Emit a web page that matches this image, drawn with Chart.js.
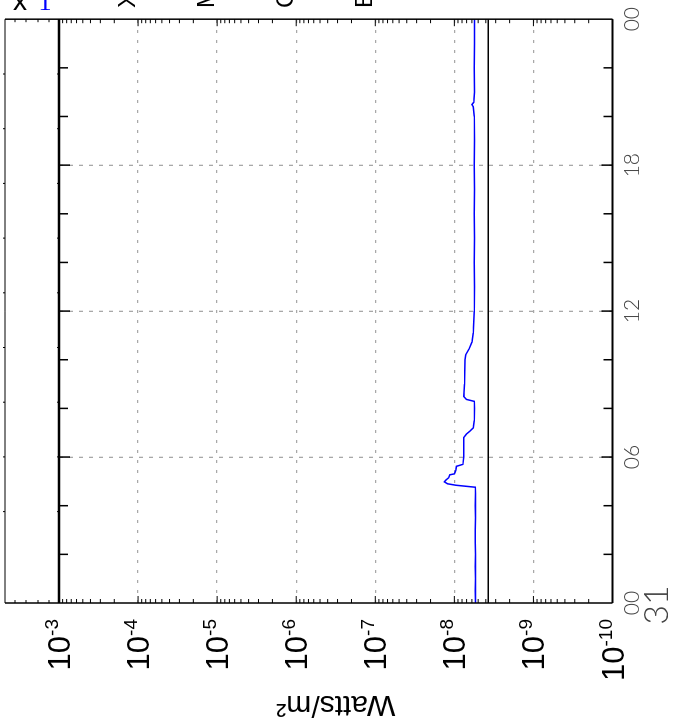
<!DOCTYPE html>
<html>
<head>
<meta charset="utf-8">
<script src="https://cdn.jsdelivr.net/npm/chart.js@4.4.1/dist/chart.umd.min.js"></script>
<style>
  body { margin: 0; overflow: hidden; background: #fff; }
  #wrap {
    position: absolute; left: 0; top: 0; width: 727px; height: 678px;
    transform-origin: 0 0; transform: translate(0, 727px) rotate(-90deg);
  }
</style>
</head>
<body>
<div id="wrap"><canvas id="goesChart" width="727" height="678"></canvas></div>
<script>
// hours of the day (UT)
const blueHours = [0, 0.5, 1, 1.5, 2, 2.5, 3, 3.5, 4, 4.5, 4.76, 4.84, 4.9, 4.98, 5.05, 5.15, 5.27, 5.31, 5.45, 5.62, 5.7,
  6, 6.4, 6.8, 6.94, 7.06, 7.2, 7.5, 8, 8.29, 8.37, 8.49, 9, 9.5, 10, 10.2, 10.45, 10.73, 11.1,
  12, 13, 14, 15, 16, 17, 18, 19, 20, 20.4, 20.49, 20.58, 21, 22, 23, 24];
const blueFlux = [5.42e-9, 5.45e-9, 5.40e-9, 5.44e-9, 5.42e-9, 5.46e-9, 5.43e-9, 5.41e-9, 5.44e-9, 5.42e-9, 5.45e-9, 9.5e-9, 1.22e-8, 1.34e-8, 1.28e-8, 1.18e-8, 1.14e-8, 1.0e-8, 9.6e-9, 9.4e-9, 7.8e-9,
  7.62e-9, 7.6e-9, 7.62e-9, 7.05e-9, 6.4e-9, 5.75e-9, 5.6e-9, 5.58e-9, 5.6e-9, 7.05e-9, 7.6e-9, 7.45e-9, 7.4e-9, 7.35e-9, 7.2e-9, 6.5e-9, 6.0e-9, 5.75e-9,
  5.62e-9, 5.58e-9, 5.6e-9, 5.56e-9, 5.6e-9, 5.58e-9, 5.6e-9, 5.57e-9, 5.6e-9, 5.75e-9, 6.0e-9, 5.7e-9, 5.58e-9, 5.6e-9, 5.57e-9, 5.58e-9];
const blackHours = [0, 24];
const blackFlux = [3.74e-9, 3.74e-9];

const timeTicks = [0, 6, 12, 18, 24];
const timeLabels = ['00', '06', '12', '18', '00'];
const dateLabel = '31';
const decadeExponents = [-3, -4, -5, -6, -7, -8, -9, -10];
const classLetters = ['X', 'M', 'C', 'B'];
const classFlux = [1e-4, 1e-5, 1e-6, 1e-7];

const thinFont = "Lato, 'Open Sans', sans-serif";
const sansFont = "'Liberation Sans', Arial, sans-serif";
const gridGray = '#a8a8a8';

const framePlugin = {
  id: 'frame',
  afterDraw(chart) {
    const ctx = chart.ctx;
    const area = chart.chartArea;
    const xs = chart.scales.x;
    const ys = chart.scales.y;
    const stripTop = 5;
    ctx.save();
    ctx.strokeStyle = '#000';

    // log ticks on left and right edges
    decadeExponents.forEach(e => {
      for (let m = 1; m <= 9; m++) {
        const v = m * Math.pow(10, e);
        if (v > 1e-3 || v < 1e-10) continue;
        const py = ys.getPixelForValue(v);
        const len = m === 1 ? 7 : 4;
        ctx.lineWidth = 1;
        ctx.beginPath();
        ctx.moveTo(area.left, py); ctx.lineTo(area.left + len, py);
        ctx.moveTo(area.right, py); ctx.lineTo(area.right - len, py);
        ctx.stroke();
      }
    });

    // time ticks on top and bottom edges
    for (let h = 2; h < 24; h += 2) {
      const px = xs.getPixelForValue(h);
      const len = h % 6 === 0 ? 11 : 9;
      ctx.lineWidth = 1.5;
      ctx.beginPath();
      ctx.moveTo(px, area.top); ctx.lineTo(px, area.top + len);
      ctx.moveTo(px, area.bottom); ctx.lineTo(px, area.bottom - len);
      ctx.stroke();
    }

    // small ticks of the strip above the plot
    ctx.lineWidth = 1;
    [15, 26, 38, 49].forEach(py => {
      ctx.beginPath();
      ctx.moveTo(area.left, py); ctx.lineTo(area.left + 3, py);
      ctx.moveTo(area.right, py); ctx.lineTo(area.right - 3, py);
      ctx.stroke();
    });
    for (let k = 0; k < 9; k++) {
      const px = 653 - k * 54.7;
      ctx.beginPath();
      ctx.moveTo(px, stripTop); ctx.lineTo(px, stripTop - 2);
      ctx.moveTo(px, area.top); ctx.lineTo(px, area.top - 2);
      ctx.stroke();
    }

    // frame
    ctx.lineWidth = 1;
    ctx.beginPath();
    ctx.moveTo(area.left, stripTop); ctx.lineTo(area.right, stripTop);
    ctx.stroke();
    ctx.lineWidth = 1.5;
    ctx.beginPath();
    ctx.moveTo(area.left, stripTop); ctx.lineTo(area.left, area.bottom);
    ctx.moveTo(area.right, stripTop); ctx.lineTo(area.right, area.bottom);
    ctx.stroke();
    ctx.lineWidth = 2.5;
    ctx.beginPath();
    ctx.moveTo(area.left, area.top); ctx.lineTo(area.right, area.top);
    ctx.stroke();
    ctx.lineWidth = 2;
    ctx.beginPath();
    ctx.moveTo(area.left, area.bottom); ctx.lineTo(area.right, area.bottom);
    ctx.stroke();

    // decade labels 10^n
    ctx.fillStyle = '#000';
    ctx.textAlign = 'right';
    ctx.textBaseline = 'alphabetic';
    const labelRight = 108;
    decadeExponents.forEach(e => {
      const py = ys.getPixelForValue(Math.pow(10, e));
      const exp = String(e);
      ctx.font = '19px ' + sansFont;
      const w = ctx.measureText(exp).width;
      ctx.fillText(exp, labelRight, py - 1);
      ctx.font = '31px ' + sansFont;
      ctx.fillText('10', labelRight - w, py + 11);
    });

    // date under the first time label
    ctx.fillStyle = '#444';
    ctx.textAlign = 'center';
    ctx.textBaseline = 'middle';
    ctx.font = '300 34px ' + thinFont;
    ctx.fillText(dateLabel, xs.getPixelForValue(0) - 2, 657);

    // flare class letters on the right (cut by the edge)
    ctx.fillStyle = '#000';
    ctx.textAlign = 'left';
    ctx.font = '24px ' + sansFont;
    classLetters.forEach((c, i) => {
      ctx.fillText(c, 719, ys.getPixelForValue(classFlux[i]) - 10);
    });

    // legend remnants, upright once the page is turned
    const upright = (txt, py, color, font) => {
      ctx.save();
      ctx.translate(717, py);
      ctx.rotate(Math.PI / 2);
      ctx.fillStyle = color;
      ctx.font = font;
      ctx.textAlign = 'center';
      ctx.textBaseline = 'alphabetic';
      ctx.fillText(txt, 0, 0);
      ctx.restore();
    };
    upright('x', 20, '#000', '28px ' + sansFont);
    upright('1', 45, '#0000ff', "26px 'Liberation Serif', serif");

    ctx.restore();
  }
};

new Chart(document.getElementById('goesChart'), {
  type: 'line',
  data: {
    datasets: [
      {
        data: blueHours.map((h, i) => ({ x: h, y: blueFlux[i] })),
        borderColor: '#0000ff',
        borderWidth: 1.5,
        pointRadius: 0,
        tension: 0,
      },
      {
        data: blackHours.map((h, i) => ({ x: h, y: blackFlux[i] })),
        borderColor: '#000',
        borderWidth: 1.5,
        pointRadius: 0,
        tension: 0,
      },
    ],
  },
  options: {
    responsive: false,
    animation: false,
    events: [],
    layout: { padding: { top: 59, right: 15, left: 0, bottom: 0 } },
    plugins: { legend: { display: false }, tooltip: { enabled: false } },
    scales: {
      x: {
        type: 'linear',
        min: 0,
        max: 24,
        afterBuildTicks: s => { s.ticks = timeTicks.map(v => ({ value: v })); },
        afterFit: s => { s.height = 65.5; },
        ticks: {
          autoSkip: false,
          maxRotation: 0,
          padding: 7,
          color: '#444',
          font: { family: thinFont, size: 21, weight: '300' },
          callback: v => timeLabels[timeTicks.indexOf(v)],
        },
        grid: {
          drawTicks: false,
          color: c => (c.tick && c.tick.value > 0 && c.tick.value < 24) ? gridGray : 'rgba(0,0,0,0)',
          lineWidth: 1.3,
        },
        border: { display: false, dash: [4, 6] },
      },
      y: {
        type: 'logarithmic',
        min: 1e-10,
        max: 1e-3,
        afterBuildTicks: s => { s.ticks = decadeExponents.map(e => ({ value: Math.pow(10, e) })); },
        afterFit: s => { s.width = 124; },
        ticks: { display: false },
        grid: {
          drawTicks: false,
          color: c => (c.tick && c.tick.value < 5e-4 && c.tick.value > 5e-10) ? gridGray : 'rgba(0,0,0,0)',
          lineWidth: 1.3,
        },
        border: { display: false, dash: [3, 7] },
        title: {
          display: true,
          text: 'Watts/m²',
          color: '#000',
          font: { family: sansFont, size: 30 },
          padding: { top: 5, bottom: 0 },
        },
      },
    },
  },
  plugins: [framePlugin],
});
</script>
</body>
</html>
